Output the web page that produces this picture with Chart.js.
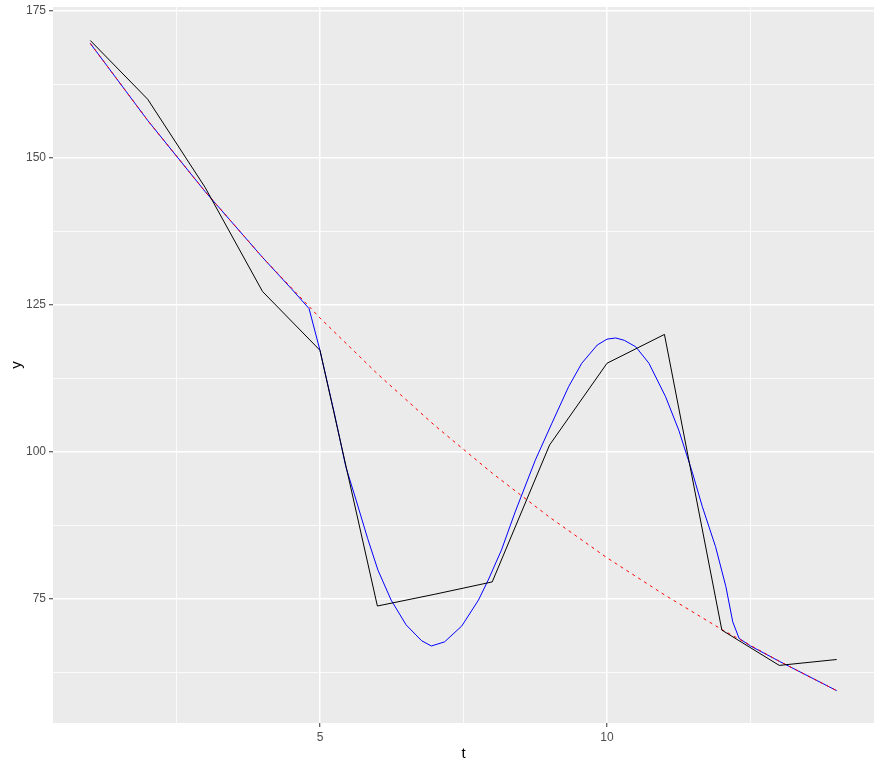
<!DOCTYPE html>
<html>
<head>
<meta charset="utf-8">
<script src="https://cdn.jsdelivr.net/npm/chart.js@4"></script>
<style>
  html, body { margin: 0; padding: 0; background: #fff; }
  #wrap { width: 880px; height: 769px; }
</style>
</head>
<body>
<div id="wrap"><canvas id="chart" width="880" height="769"></canvas></div>
<script>
// Observed series (black)
const tValues = [1, 2, 3, 4, 5, 6, 7, 8, 9, 10, 11, 12, 13, 14];
const observed = [170, 160, 145, 127.3, 117.3, 73.8, 75.8, 77.9, 101.2, 115.1, 120, 69.7, 63.7, 64.7];

// Trend (red dashed)
const trend = [169.5, 156.4, 144.3, 133.1, 122.8, 113.3, 104.5, 96.4, 88.9, 82.0, 75.7, 69.8, 64.4, 59.4];

// Fitted curve (blue)
const fitT = [1, 2, 3, 4, 4.5, 4.81, 5.0, 5.25, 5.45, 5.63, 5.83, 6.01, 6.24, 6.5, 6.77, 6.94,
  7.17, 7.47, 7.76, 7.93, 8.16, 8.4, 8.75, 9.04, 9.33, 9.56, 9.83, 10.0, 10.15, 10.3, 10.5, 10.73,
  11.02, 11.25, 11.49, 11.66, 11.89, 12.07, 12.19, 12.3, 12.5, 13, 14];
const fitY = [169.5, 156.4, 144.3, 133.1, 127.8, 124.4, 117.3, 106.6, 97.5, 91.8, 85.3, 79.9, 74.8, 70.6, 67.9, 67.0,
  67.7, 70.4, 74.8, 78.2, 83.3, 89.8, 98.6, 104.9, 111.1, 115.1, 118.2, 119.2, 119.4, 119.0, 117.9, 115.1,
  109.4, 103.7, 96.4, 90.7, 83.9, 77.1, 71.1, 68.3, 67.0, 64.4, 59.4];

// Axis ticks / gridlines
const xMajor = [5, 10];
const xGrid = [2.5, 5, 7.5, 10, 12.5];
const yMajor = [75, 100, 125, 150, 175];
const yGrid = [62.5, 75, 87.5, 100, 112.5, 125, 137.5, 150, 162.5, 175];

const toPoints = (xs, ys) => xs.map((x, i) => ({ x: x, y: ys[i] }));

// gray panel like ggplot
const panelBg = {
  id: 'panelBg',
  beforeDraw(chart) {
    const a = chart.chartArea;
    const ctx = chart.ctx;
    ctx.save();
    ctx.fillStyle = '#EBEBEB';
    ctx.fillRect(a.left, a.top, a.right - a.left, a.bottom - a.top);
    ctx.restore();
  }
};

function gridWidth(majors) {
  return c => (c.tick && majors.includes(c.tick.value)) ? 1.5 : 0.8;
}
function tickCol(majors) {
  return c => (c.tick && majors.includes(c.tick.value)) ? '#333333' : 'rgba(0,0,0,0)';
}

new Chart(document.getElementById('chart'), {
  type: 'line',
  data: {
    datasets: [
      {
        data: toPoints(tValues, observed),
        borderColor: '#000000',
        borderWidth: 1,
        pointRadius: 0,
        tension: 0
      },
      {
        data: toPoints(tValues, trend),
        borderColor: '#FF0000',
        borderWidth: 1,
        borderDash: [3, 4],
        pointRadius: 0,
        tension: 0
      },
      {
        data: toPoints(fitT, fitY),
        borderColor: '#0000FF',
        borderWidth: 1,
        pointRadius: 0,
        tension: 0
      }
    ]
  },
  options: {
    responsive: false,
    animation: false,
    layout: { padding: { top: 7, right: 6, left: 0, bottom: 0 } },
    plugins: { legend: { display: false }, tooltip: { enabled: false } },
    scales: {
      x: {
        type: 'linear',
        min: 0.35,
        max: 14.65,
        afterBuildTicks: s => { s.ticks = xGrid.map(v => ({ value: v })); },
        afterFit: s => { s.height = 46; },
        border: { display: false },
        grid: {
          color: '#FFFFFF',
          lineWidth: gridWidth(xMajor),
          tickColor: tickCol(xMajor),
          tickLength: 4,
          tickWidth: 1
        },
        ticks: {
          autoSkip: false,
          maxRotation: 0,
          padding: 3,
          color: '#4D4D4D',
          font: { family: 'Liberation Sans, Arial, sans-serif', size: 12 },
          callback: v => xMajor.includes(v) ? String(v) : ''
        },
        title: {
          display: true,
          text: 't',
          color: '#000000',
          font: { family: 'Liberation Sans, Arial, sans-serif', size: 15 },
          padding: { top: 0, bottom: 6 }
        }
      },
      y: {
        type: 'linear',
        min: 53.9,
        max: 175.7,
        afterBuildTicks: s => { s.ticks = yGrid.map(v => ({ value: v })); },
        afterFit: s => { s.width = 53; s.paddingTop = 0; s.paddingBottom = 0; },
        border: { display: false },
        grid: {
          color: '#FFFFFF',
          lineWidth: gridWidth(yMajor),
          tickColor: tickCol(yMajor),
          tickLength: 4,
          tickWidth: 1
        },
        ticks: {
          autoSkip: false,
          padding: 3,
          color: '#4D4D4D',
          font: { family: 'Liberation Sans, Arial, sans-serif', size: 12 },
          callback: v => yMajor.includes(v) ? String(v) : ''
        },
        title: {
          display: true,
          text: 'y',
          color: '#000000',
          font: { family: 'Liberation Sans, Arial, sans-serif', size: 15 },
          padding: { top: 8, bottom: 0 }
        }
      }
    }
  },
  plugins: [panelBg]
});
</script>
</body>
</html>
